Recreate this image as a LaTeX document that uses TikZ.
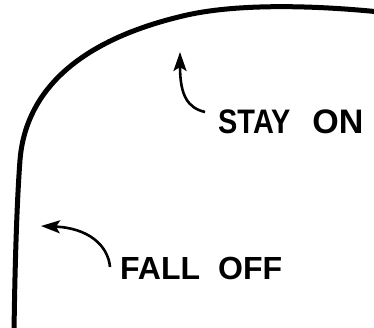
\documentclass[tikz,border=0pt]{standalone}
\usepackage{fontspec}
\setmainfont{Liberation Sans}
\usetikzlibrary{arrows.meta,calc}
\begin{document}
\begin{tikzpicture}[x=1pt,y=-1pt,
  label/.style={font=\bfseries\fontsize{34}{38}\selectfont, inner sep=0pt, anchor=base west},
  pointer/.style={line width=2.6pt, -{Stealth[length=19pt,width=13pt,inset=4pt]}},
  road/.style={line width=5pt, line cap=round}]
\useasboundingbox (0,0) rectangle (374,327);
\draw[road] (14,332) .. controls (15,260) and (17,200) .. (20,160)
  .. controls (24,110) and (55,45) .. (187,15)
  .. controls (232,5) and (300,4) .. (380,12);
\node[label] (stay) at (218,133) {\scalebox{0.85}[1]{STAY}\hspace{22pt}ON};
\node[label, font=\bfseries\fontsize{32}{36}\selectfont] (fall) at (120,279) {FALL\hspace{18pt}OFF};
\coordinate (stayTip) at (180,52);
\coordinate (fallTip) at (41,226);
\coordinate (stayStart) at ($(stay.base west)+(-13,-21)$);
\coordinate (fallStart) at ($(fall.base west)+(-10,-12)$);
\draw[pointer] (stayStart) .. controls (188,108) and (180,96) .. (stayTip);
\draw[pointer] (fallStart) .. controls (108,245) and (88,228) .. (fallTip);
\end{tikzpicture}
\end{document}
